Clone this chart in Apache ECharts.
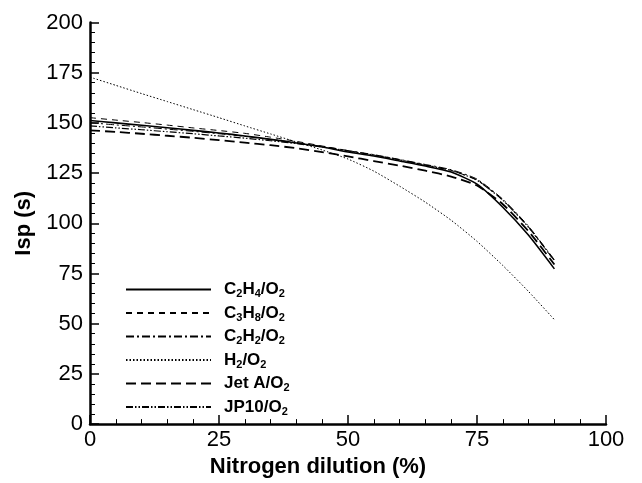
<!DOCTYPE html>
<html><head><meta charset="utf-8">
<script src="https://cdn.jsdelivr.net/npm/echarts@6/dist/echarts.min.js"></script>
<style>html,body{margin:0;padding:0;background:#fff}#c{width:642px;height:483px}</style>
</head><body><div id="c"></div>
<script>
const dilution = [0, 5, 10, 15, 20, 25, 30, 35, 40, 45, 50, 55, 60, 65, 70, 75, 80, 85, 90];
const C2H4 = [151.2, 150, 148.8, 147.6, 146.3, 145, 143.5, 141.8, 140, 138, 135.5, 133.5, 131, 128.5, 125.5, 119.5, 108, 94, 77.3];
const C3H8 = [152.6, 151.4, 150.2, 148.9, 147.5, 146.2, 144.8, 142.9, 140.8, 138.5, 136.2, 134, 131.6, 129, 126.3, 121.5, 111.5, 98, 81.2];
const C2H2 = [150.1, 149, 148, 146.9, 145.8, 144.6, 143.3, 141.8, 140.2, 138.3, 136.2, 134.2, 131.8, 129.3, 126.7, 122, 112, 98.5, 81.8];
const H2 = [172.8, 168.7, 164.6, 160.6, 156.6, 152.6, 148.5, 144.5, 140.5, 136.5, 132, 126, 118.5, 110.5, 101.5, 91, 79, 66, 52];
const JetA = [146.3, 145.5, 144.6, 143.6, 142.6, 141.4, 140.2, 138.9, 137.4, 135.5, 133.3, 131, 128.7, 126.2, 123.3, 118.8, 109.5, 96, 79.5];
const JP10 = [148.5, 147.5, 146.6, 145.6, 144.6, 143.5, 142.4, 141.1, 139.7, 138, 136, 134, 131.6, 129, 126.3, 121.5, 111.5, 98, 81.5];
const xTicks = [0, 25, 50, 75, 100];
const yTicks = [0, 25, 50, 75, 100, 125, 150, 175, 200];

const seriesDefs = [
  {name: 'C2H4', label: '{n|C}{s|2}{n|H}{s|4}{n|/O}{s|2}', data: C2H4, type: 'solid', width: 1.6},
  {name: 'C3H8', label: '{n|C}{s|3}{n|H}{s|8}{n|/O}{s|2}', data: C3H8, type: [6, 5], width: 1},
  {name: 'C2H2', label: '{n|C}{s|2}{n|H}{s|2}{n|/O}{s|2}', data: C2H2, type: [8, 3, 2, 3], width: 1},
  {name: 'H2', label: '{n|H}{s|2}{n|/O}{s|2}', data: H2, type: [1.5, 2], width: 1},
  {name: 'Jet A', label: '{n|Jet A/O}{s|2}', data: JetA, type: [10, 5], width: 1.8},
  {name: 'JP10', label: '{n|JP10/O}{s|2}', data: JP10, type: [7, 2, 1.5, 2, 1.5, 2], width: 1.2}
];
const labelMap = {};
seriesDefs.forEach(d => labelMap[d.name] = d.label);

const font = 'Liberation Sans, Arial, sans-serif';
const chart = echarts.init(document.getElementById('c'), null, {renderer: 'canvas'});
chart.setOption({
  animation: false,
  backgroundColor: '#fff',
  grid: {left: 90, right: 36, top: 22.5, bottom: 56, containLabel: false},
  xAxis: {
    type: 'value', min: 0, max: 100, interval: 25,
    name: 'Nitrogen dilution (%)', nameLocation: 'middle', nameGap: 25,
    nameTextStyle: {fontFamily: font, fontWeight: 'bold', fontSize: 22, color: '#000', padding: [0, 60, 0, 0]},
    axisLine: {lineStyle: {color: '#000', width: 2.5}},
    axisTick: {inside: true, length: 9, lineStyle: {color: '#000', width: 1.5}},
    minorTick: {show: true, splitNumber: 5, length: 5, lineStyle: {color: '#000', width: 1}},
    axisLabel: {fontFamily: font, fontSize: 22, color: '#000', margin: 5,
      formatter: v => xTicks.includes(v) ? String(v) : ''},
    splitLine: {show: false}
  },
  yAxis: {
    type: 'value', min: 0, max: 200, interval: 25,
    name: 'Isp (s)', nameLocation: 'middle', nameGap: 50, nameRotate: 90,
    nameTextStyle: {fontFamily: font, fontWeight: 'bold', fontSize: 22, color: '#000'},
    axisLine: {show: true, lineStyle: {color: '#000', width: 2.5}},
    axisTick: {show: true, inside: true, length: 9, lineStyle: {color: '#000', width: 1.5}},
    minorTick: {show: true, splitNumber: 5, length: 5, lineStyle: {color: '#000', width: 1}},
    axisLabel: {fontFamily: font, fontSize: 22, color: '#000', margin: 7,
      formatter: v => yTicks.includes(v) ? String(v) : ''},
    splitLine: {show: false}
  },
  legend: {
    orient: 'vertical', left: 120, top: 276, itemWidth: 85, itemHeight: 14, itemGap: 5,
    data: seriesDefs.map(d => d.name),
    formatter: n => labelMap[n],
    itemStyle: {opacity: 0},
    textStyle: {
      fontFamily: font, color: '#000', padding: [0, 0, 0, 8],
      rich: {
        n: {fontFamily: font, fontSize: 17, fontWeight: 'bold', color: '#000', lineHeight: 20, verticalAlign: 'middle'},
        s: {fontFamily: font, fontSize: 11, fontWeight: 'bold', color: '#000', lineHeight: 10, verticalAlign: 'bottom'}
      }
    }
  },
  series: seriesDefs.map(d => ({
    name: d.name, type: 'line', showSymbol: false, symbol: 'none', smooth: 0.2,
    data: dilution.map((x, i) => [x, d.data[i]]),
    lineStyle: {color: '#000', width: d.width, type: d.type},
    itemStyle: {color: '#000'}
  }))
});
</script></body></html>
